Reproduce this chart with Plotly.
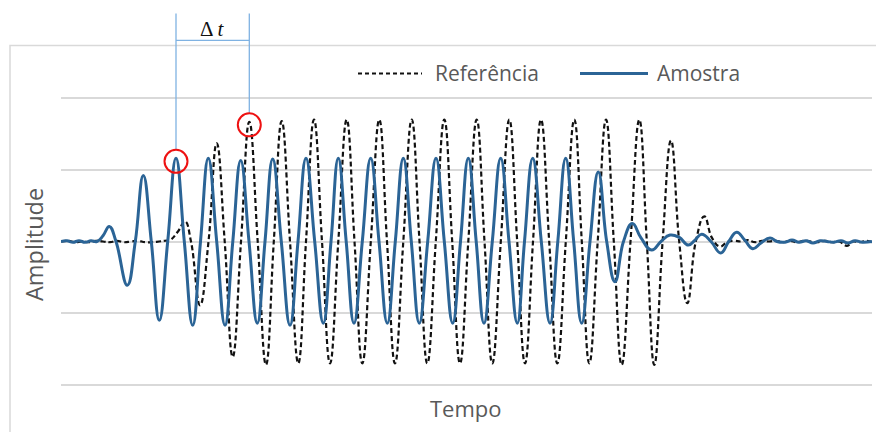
import plotly.graph_objects as go

# ---------------- data (time in arbitrary units, amplitude in arbitrary units) -------------
referencia_t = [0, 7, 14, 21, 28, 35, 42, 49, 56, 63, 70, 77, 84, 91, 98, 104, 109, 117, 124, 130, 139,
                147.5, 155.7, 163.7, 171.7, 180, 188.3, 196.7, 205, 212.8, 220.7, 229, 237.3, 245, 253,
                261, 269, 277.3, 285.7, 293.5, 301.3, 309.8, 318.3, 326, 334, 342.3, 350.7, 358.5, 366.3,
                374.8, 383.3, 391.2, 399, 407.3, 415.7, 423.5, 431.3, 439.8, 448.3, 456.2, 464, 472, 480,
                488.2, 496.3, 504.8, 513.3, 520.8, 528.3, 536.7, 545, 552.8, 560.7, 569.5, 578.3, 585.8,
                593.3, 601.6, 610, 618.2, 626.3, 634.8, 643.3, 651, 659, 666, 673, 680, 687, 694, 701,
                708, 715, 722, 729, 736, 743, 750, 757, 764, 771, 778, 786, 792, 799, 805, 811]
referencia_a = [0.0, 0.01, -0.01, 0.0, -0.01, 0.01, 0.0, -0.01, 0.01, -0.01, 0.0, 0.01, -0.01, -0.01, 0.0,
                0.01, 0.02, 0.14, 0.28, 0.0, -0.89,
                0.0, 1.37, 0.0, -1.61, 0.0, 1.67, 0.0, -1.72, 0.0, 1.68, 0.0, -1.70, 0.0, 1.70,
                0.0, -1.70, 0.0, 1.70, 0.0, -1.70, 0.0, 1.70, 0.0, -1.70, 0.0, 1.70, 0.0, -1.70,
                0.0, 1.70, 0.0, -1.70, 0.0, 1.70, 0.0, -1.70, 0.0, 1.70, 0.0, -1.70, 0.0, 1.70,
                0.0, -1.70, 0.0, 1.70, 0.0, -1.70, 0.0, 1.70, 0.0, -1.72, 0.0, 1.70, 0.0,
                -1.72, 0.0, 1.41, 0.0, -0.86, 0.0, 0.35, 0.05, -0.07, -0.01, 0.01, 0.0, 0.02, -0.01, 0.01,
                0.0, 0.01, -0.01, 0.01, -0.01, 0.01, 0.0, -0.01, 0.01, -0.01, 0.0, -0.06, 0.0, -0.01, 0.01, -0.01]

amostra_t = [0, 6, 12, 18, 24, 30, 36, 42, 48.3, 55, 66.3, 74.3, 82.3, 90.3, 98.3, 106.7, 115, 123.3,
             131.7, 139.5, 147.3, 155.7, 164, 171.8, 179.7, 188, 196.3, 204, 211.7, 220.3, 229, 237,
             245, 253.7, 262.3, 270, 277.3, 285.2, 293, 301.3, 309.7, 318, 326.3, 334.3, 342.3, 350.3,
             358.3, 366.7, 375, 383.3, 391.7, 399.5, 407.3, 415.2, 423, 431.3, 439.7, 448, 456.3, 463.5,
             471.7, 480.3, 489, 496.8, 504.7, 512.7, 520.7, 529, 537.3, 545.7, 554, 562.5, 571.3, 580,
             590.7, 600, 609, 618, 627.3, 634, 640.7, 650, 659.7, 667.7, 675.7, 683.7, 691.7, 700, 709,
             716, 724, 731, 738, 745, 752, 759, 766, 773, 780, 787, 794, 801, 811]
amostra_a = [0.0, 0.01, -0.01, 0.01, -0.01, 0.01, 0.0, 0.08, 0.21, 0.0, -0.61, 0.0, 0.92, 0.0, -1.10, 0.0,
             1.16, 0.0, -1.17, 0.0, 1.16, 0.0, -1.17, 0.0, 1.13, 0.0, -1.14, 0.0, 1.15, 0.0, -1.17, 0.0,
             1.16, 0.0, -1.14, 0.0, 1.16, 0.0, -1.14, 0.0, 1.16, 0.0, -1.14, 0.0, 1.16, 0.0,
             -1.14, 0.0, 1.16, 0.0, -1.14, 0.0, 1.16, 0.0, -1.14, 0.0, 1.16, 0.0, -1.14, 0.0,
             1.16, 0.0, -1.14, 0.0, 1.16, 0.0, -1.14, 0.0, 0.97, 0.0, -0.56, 0.0, 0.25, 0.05,
             -0.12, 0.0, 0.09, 0.06, -0.05, 0.02, 0.10, 0.0, -0.16, 0.0, 0.13, 0.02, -0.10, -0.02, 0.05,
             0.0, -0.01, 0.02, -0.01, 0.01, -0.02, 0.01, 0.0, -0.01, 0.01, -0.02, 0.01, -0.01, 0.0]

series_names = ["Referência", "Amostra"]
axis_titles = ["Tempo", "Amplitude"]
grid_ticks = [-2, -1, 0, 1, 2]
x_range = [0, 811]
y_range = [-2.03, 2.03]

# indexes of the two marked peaks (Δt)
amostra_peak_idx = amostra_t.index(115)
referencia_peak_idx = referencia_t.index(188.3)

# ---------------- style ----------------
# the page body has an 8px margin -> figure is placed at (8, 8) in the window
OFF_PAGE = 8
WIN_W, WIN_H = 884, 432
W, H = WIN_W - OFF_PAGE, WIN_H - OFF_PAGE
UNIT = 71.8                      # px per amplitude unit
Y0_PX = 241.4                    # window y of amplitude 0
PLOT_TOP = Y0_PX - y_range[1] * UNIT
PLOT_BOT = Y0_PX - y_range[0] * UNIT
ML = 61 - OFF_PAGE
MR = WIN_W - 872
MT = PLOT_TOP - OFF_PAGE
MB = WIN_H - PLOT_BOT
PW = W - ML - MR
PH = H - MT - MB
TXT = "#595959"
GRID = "#d9d9d9"
BLUE = "#2b6496"
LIGHTBLUE = "#7fb2e2"
FONT = "Open Sans"


def px_x(px):
    # window px -> paper x
    return (px - OFF_PAGE - ML) / PW


def px_y(py):
    # window px -> paper y
    return (H - MB - (py - OFF_PAGE)) / PH


def val_y(v):
    return (v - y_range[0]) / (y_range[1] - y_range[0])


fig = go.Figure()
fig.add_trace(go.Scatter(x=referencia_t, y=referencia_a, mode="lines", name=series_names[0],
                         line=dict(color="#111111", width=2.2, dash="5px,3px", shape="spline", smoothing=1.3),
                         hoverinfo="skip"))
fig.add_trace(go.Scatter(x=amostra_t, y=amostra_a, mode="lines", name=series_names[1],
                         line=dict(color=BLUE, width=3, shape="spline", smoothing=1.3),
                         hoverinfo="skip"))

shapes = []
annotations = []

# chart frame
shapes.append(dict(type="rect", xref="paper", yref="paper", x0=px_x(10), x1=px_x(930),
                   y0=px_y(470), y1=px_y(45), line=dict(color=GRID, width=1.5), layer="below"))

# legend (manual)
ly = px_y(73)
shapes.append(dict(type="line", xref="paper", yref="paper", x0=px_x(358), x1=px_x(422), y0=ly, y1=ly,
                   line=dict(color="#111111", width=2, dash="4px,3px")))
shapes.append(dict(type="line", xref="paper", yref="paper", x0=px_x(580), x1=px_x(648), y0=ly, y1=ly,
                   line=dict(color=BLUE, width=3)))
annotations.append(dict(xref="paper", yref="paper", x=px_x(433), y=ly, xanchor="left", yanchor="middle",
                        text=series_names[0], showarrow=False, font=dict(family=FONT, size=21, color=TXT)))
annotations.append(dict(xref="paper", yref="paper", x=px_x(655), y=ly, xanchor="left", yanchor="middle",
                        text=series_names[1], showarrow=False, font=dict(family=FONT, size=21, color=TXT)))

# axis titles
annotations.append(dict(xref="paper", yref="paper", x=px_x(466), y=px_y(408), xanchor="center",
                        yanchor="middle", text=axis_titles[0], showarrow=False,
                        font=dict(family=FONT, size=22, color=TXT)))
annotations.append(dict(xref="paper", yref="paper", x=px_x(34), y=px_y(245), xanchor="center",
                        yanchor="middle", text=axis_titles[1], showarrow=False, textangle=-90,
                        font=dict(family=FONT, size=23.5, color=TXT)))

# Δt marker
tA, vA = amostra_t[amostra_peak_idx], amostra_a[amostra_peak_idx]
tR, vR = referencia_t[referencia_peak_idx], referencia_a[referencia_peak_idx]
R = 11.5
OFF = 3
top = px_y(13)
for t, v in [(tA, vA), (tR, vR)]:
    shapes.append(dict(type="line", xref="x", yref="paper", x0=t, x1=t,
                       y0=val_y(v) + (R - OFF) / PH, y1=top, line=dict(color=LIGHTBLUE, width=1.3)))
    shapes.append(dict(type="circle", xref="x", yref="y", xsizemode="pixel", ysizemode="pixel",
                       xanchor=t, yanchor=v, x0=-R, x1=R, y0=-R - OFF, y1=R - OFF,
                       line=dict(color="#ee1111", width=2)))
shapes.append(dict(type="line", xref="x", yref="paper", x0=tA, x1=tR, y0=px_y(40), y1=px_y(40),
                   line=dict(color=LIGHTBLUE, width=1.3)))
annotations.append(dict(xref="x", yref="paper", x=(tA + tR) / 2, y=px_y(29), xanchor="center",
                        yanchor="middle", text="Δ <i>t</i>", showarrow=False,
                        font=dict(family="Liberation Serif", size=21, color="#111111")))

fig.update_layout(
    width=W, height=H,
    margin=dict(l=ML, r=MR, t=MT, b=MB, pad=0),
    paper_bgcolor="white", plot_bgcolor="white",
    showlegend=False,
    shapes=shapes, annotations=annotations,
    xaxis=dict(range=x_range, showgrid=False, zeroline=False, showticklabels=False, showline=False,
               ticks=""),
    yaxis=dict(range=y_range, tickvals=grid_ticks, showgrid=True, gridcolor=GRID, gridwidth=1.5,
               zeroline=False, showticklabels=False, showline=False, ticks=""),
)

fig.write_html("out.html")
